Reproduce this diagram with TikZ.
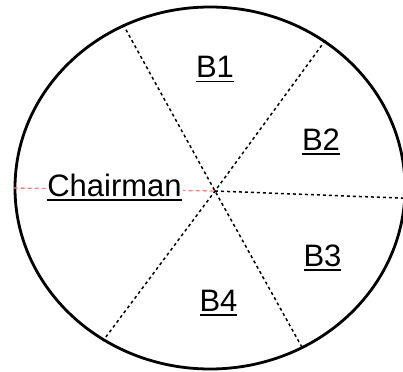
\documentclass[tikz,border=0pt]{standalone}
\usepackage{fontspec}
\setmainfont{Liberation Sans}
\usetikzlibrary{positioning, shapes.geometric}
\newlength{\seatwd}
\newcommand{\seatname}[1]{\settowidth{\seatwd}{#1}#1\llap{\rule[-4.5pt]{\seatwd}{1.8pt}}}

\begin{document}
\begin{tikzpicture}[x=1pt, y=-1pt,
    seat/.style={font=\fontsize{31}{35}\selectfont, inner sep=1pt, anchor=base},
    split/.style={black, line width=1.5pt, dash pattern=on 3pt off 3pt},
    chair/.style={red!50, line width=1.3pt, dash pattern=on 4pt off 3pt}]
    \useasboundingbox (0,0) rectangle (403,371);
    \clip (0,0) rectangle (403,371);
    \node[ellipse, draw, line width=2.8pt, minimum width=390pt,
      minimum height=362pt, inner sep=0pt] (board) at (210,188) {};
    \coordinate (hub) at (215,191);
    % partitions
    \draw[split] (board.118) -- (hub) -- (board.300);
    \draw[split] (board.52.3) -- (hub) -- (board.235.8);
    \draw[split] (hub) -- (board.357.3);
    \draw[chair] (board.west) -- (hub);
    % seats
    \node[seat, fill=white] (chairman) at (114.5,196) {\seatname{Chairman}};
    \node[seat] (b1) at (215,78) {\seatname{B1}};
    \node[seat] (b2) at (321,150) {\seatname{B2}};
    \node[seat] (b3) at (322.5,266) {\seatname{B3}};
    \node[seat] (b4) at (218.5,311) {\seatname{B4}};
\end{tikzpicture}
\end{document}
